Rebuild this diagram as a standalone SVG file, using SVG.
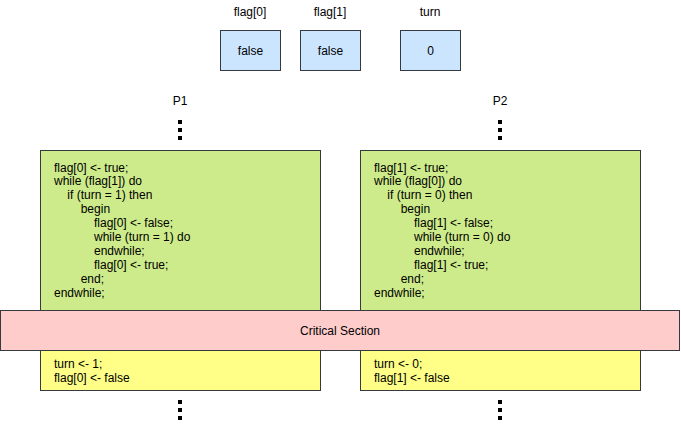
<svg xmlns="http://www.w3.org/2000/svg" width="681" height="424" viewBox="0 0 681 424">
<style>
  text { font-family: "Liberation Sans", Arial, Helvetica, sans-serif; font-size: 12px; fill: #000000; }
  .c { text-anchor: middle; }
  .var { fill: #cce5ff; stroke: #36393d; stroke-width: 1; }
  .green { fill: #cdeb8b; stroke: #36393d; stroke-width: 1; }
  .crit { fill: #ffcccc; stroke: #36393d; stroke-width: 1; }
  .yellow { fill: #ffff88; stroke: #36393d; stroke-width: 1; }
  .dot { fill: #000000; }
</style>
<defs>
  <g id="dots">
    <rect class="dot" x="0" y="0" width="4" height="4"/>
    <rect class="dot" x="0" y="8" width="4" height="4"/>
    <rect class="dot" x="0" y="16" width="4" height="4"/>
  </g>
</defs>
<rect width="681" height="424" fill="#ffffff"/>

<g id="flag0">
  <text class="c" x="250" y="16">flag[0]</text>
  <rect class="var" x="220.5" y="30.5" width="60" height="40"/>
  <text class="c" x="250.5" y="54.5">false</text>
</g>
<g id="flag1">
  <text class="c" x="330" y="16">flag[1]</text>
  <rect class="var" x="300.5" y="30.5" width="60" height="40"/>
  <text class="c" x="330.5" y="54.5">false</text>
</g>
<g id="turn">
  <text class="c" x="430" y="16">turn</text>
  <rect class="var" x="400.5" y="30.5" width="60" height="40"/>
  <text class="c" x="430.5" y="54.5">0</text>
</g>

<g id="p1-label">
  <text class="c" x="180" y="105">P1</text>
  <use href="#dots" x="178" y="120"/>
</g>
<g id="p2-label">
  <text class="c" x="500" y="105">P2</text>
  <use href="#dots" x="498" y="120"/>
</g>

<g id="p1-entry">
  <rect class="green" x="40.5" y="150.5" width="280" height="160"/>
  <text x="54" y="171.5" xml:space="preserve">flag[0] &lt;- true;</text>
  <text x="54" y="185.4">while (flag[1]) do</text>
  <text x="67.3" y="199.3">if (turn = 1) then</text>
  <text x="80.7" y="213.2">begin</text>
  <text x="94" y="227.1">flag[0] &lt;- false;</text>
  <text x="94" y="241">while (turn = 1) do</text>
  <text x="94" y="254.9">endwhile;</text>
  <text x="94" y="268.8">flag[0] &lt;- true;</text>
  <text x="80.7" y="282.7">end;</text>
  <text x="54" y="296.6">endwhile;</text>
</g>
<g id="p2-entry">
  <rect class="green" x="360.5" y="150.5" width="280" height="160"/>
  <text x="374" y="171.5">flag[1] &lt;- true;</text>
  <text x="374" y="185.4">while (flag[0]) do</text>
  <text x="387.3" y="199.3">if (turn = 0) then</text>
  <text x="400.7" y="213.2">begin</text>
  <text x="414" y="227.1">flag[1] &lt;- false;</text>
  <text x="414" y="241">while (turn = 0) do</text>
  <text x="414" y="254.9">endwhile;</text>
  <text x="414" y="268.8">flag[1] &lt;- true;</text>
  <text x="400.7" y="282.7">end;</text>
  <text x="374" y="296.6">endwhile;</text>
</g>

<g id="critical-section">
  <rect class="crit" x="0.5" y="310.5" width="679" height="40"/>
  <text class="c" x="340" y="334.5">Critical Section</text>
</g>

<g id="p1-exit">
  <rect class="yellow" x="40.5" y="350.5" width="280" height="40"/>
  <text x="54" y="367.5">turn &lt;- 1;</text>
  <text x="54" y="381.5">flag[0] &lt;- false</text>
  <use href="#dots" x="178" y="400"/>
</g>
<g id="p2-exit">
  <rect class="yellow" x="360.5" y="350.5" width="280" height="40"/>
  <text x="374" y="367.5">turn &lt;- 0;</text>
  <text x="374" y="381.5">flag[1] &lt;- false</text>
  <use href="#dots" x="498" y="400"/>
</g>

<g id="connectors"></g>
</svg>
